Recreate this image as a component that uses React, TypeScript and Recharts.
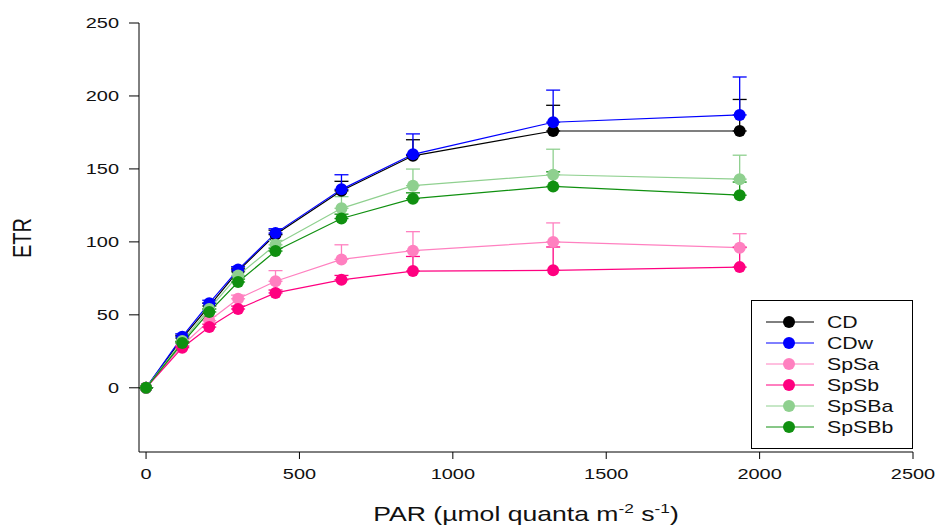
import React from 'react';
import {
  LineChart,
  Line,
  XAxis,
  YAxis,
  ErrorBar,
} from 'recharts';

// PAR steps of the light curve
const PAR = [0, 118, 206, 300, 422, 637, 870, 1327, 1935];

// ETR means per treatment
const CD = [0, 34, 56, 80, 105, 135, 159, 176, 176];
const CDw = [0, 35, 58, 81, 106, 136, 160, 182, 187];
const SpSa = [0, 29, 46, 61, 73, 88, 94, 100, 96];
const SpSb = [0, 27.5, 41.6, 54, 65, 74, 80, 80.5, 82.7];
const SpSBa = [0, 32, 54, 77, 98, 123, 138.5, 146, 143];
const SpSBb = [0, 30.7, 52, 72.5, 93.7, 116, 129.6, 138, 132];

// upper error bars (SE)
const CD_ERR = [0, 2, 2, 2, 3, 6.5, 11, 17.6, 21.6];
const CDw_ERR = [0, 2, 2, 2, 3, 10, 14, 22, 26];
const SpSa_ERR = [0, 2, 3, 2.5, 7.3, 10, 13, 13, 9.6];
const SpSb_ERR = [0, 1, 2, 2, 2, 3, 10, 16, 13.7];
const SpSBa_ERR = [0, 2, 2, 2, 3, 8, 11.4, 17.5, 16.4];
const SpSBb_ERR = [0, 1, 2, 2, 2, 3, 4, 10, 9];

const X_TICKS = [0, 500, 1000, 1500, 2000, 2500];
const Y_TICKS = [0, 50, 100, 150, 200, 250];

const SERIES = [
  { name: 'CD', values: CD, err: CD_ERR, color: '#000000' },
  { name: 'CDw', values: CDw, err: CDw_ERR, color: '#0000ff' },
  { name: 'SpSa', values: SpSa, err: SpSa_ERR, color: '#ff80c0' },
  { name: 'SpSb', values: SpSb, err: SpSb_ERR, color: '#ff0080' },
  { name: 'SpSBa', values: SpSBa, err: SpSBa_ERR, color: '#8fd08f' },
  { name: 'SpSBb', values: SpSBb, err: SpSBb_ERR, color: '#109010' },
];

const FONT = '"Liberation Sans", Arial, sans-serif';
const STRETCH = 1.33; // the original figure is stretched horizontally

const data = PAR.map((par, i) => {
  const row: any = { par };
  SERIES.forEach((s) => {
    row[s.name] = s.values[i];
    row[s.name + '_err'] = [0, s.err[i]];
  });
  return row;
});

const XTick = ({ x, y, payload }: any) => (
  <text
    transform={`translate(${x},${y}) scale(${STRETCH},1)`}
    textAnchor="middle"
    dy="0.71em"
    fontSize={15}
    fontFamily={FONT}
    fill="#111"
  >
    {payload.value}
  </text>
);

const YTick = ({ x, y, payload }: any) => (
  <text
    transform={`translate(${x},${y}) scale(${STRETCH},1)`}
    textAnchor="end"
    dy="0.36em"
    fontSize={15}
    fontFamily={FONT}
    fill="#111"
  >
    {payload.value}
  </text>
);

const XTitle = () => (
  <text
    transform={`translate(526,521) scale(${STRETCH},1)`}
    textAnchor="middle"
    fontSize={20}
    fontFamily={FONT}
    fill="#111"
  >
    PAR (µmol quanta m
    <tspan fontSize={13} dy={-8}>-2</tspan>
    <tspan dy={8}> s</tspan>
    <tspan fontSize={13} dy={-8}>-1</tspan>
    <tspan dy={8}>)</tspan>
  </text>
);

const YTitle = () => (
  <text
    transform={`translate(21,238) scale(${STRETCH},1) rotate(-90)`}
    textAnchor="middle"
    dy="0.36em"
    fontSize={20}
    fontFamily={FONT}
    fill="#111"
  >
    ETR
  </text>
);

function LegendBox() {
  return (
    <svg
      width={162}
      height={149}
      style={{ position: 'absolute', left: 751, top: 300 }}
    >
      <rect x={0.5} y={0.5} width={161} height={148} fill="#fff" stroke="#000" />
      {SERIES.map((s, i) => {
        const cy = 22 + i * 21;
        return (
          <g key={s.name}>
            <line x1={15} x2={63} y1={cy} y2={cy} stroke={s.color} strokeWidth={1} />
            <circle cx={38} cy={cy} r={6} fill={s.color} />
            <text
              transform={`translate(76,${cy}) scale(${STRETCH},1)`}
              dy="0.36em"
              fontSize={16}
              fontFamily={FONT}
              fill="#111"
            >
              {s.name}
            </text>
          </g>
        );
      })}
    </svg>
  );
}

export default function App() {
  return (
    <div style={{ position: 'absolute', left: 0, top: 0, width: 938, height: 527, background: '#fff' }}>
      <LineChart
        width={938}
        height={527}
        data={data}
        margin={{ top: 23, right: 25, bottom: 35, left: 79 }}
      >
        <XAxis
          type="number"
          dataKey="par"
          domain={[-23, 2500]}
          ticks={X_TICKS}
          allowDataOverflow
          stroke="#000"
          tickSize={7}
          tickMargin={9}
          height={40}
          tick={<XTick />}
          label={{ content: () => <XTitle /> }}
        />
        <XAxis
          xAxisId="top"
          orientation="top"
          type="number"
          domain={[-23, 2500]}
          stroke="#000"
          tick={false}
          tickLine={false}
          height={0}
        />
        <YAxis
          type="number"
          domain={[-44, 250]}
          ticks={Y_TICKS}
          allowDataOverflow
          stroke="#000"
          tickSize={10}
          tickMargin={10}
          width={60}
          tick={<YTick />}
          label={{ content: () => <YTitle /> }}
        />
        <YAxis
          yAxisId="right"
          orientation="right"
          domain={[-44, 250]}
          stroke="#000"
          tick={false}
          tickLine={false}
          width={0}
        />
        {SERIES.map((s) => (
          <Line
            key={s.name}
            type="linear"
            dataKey={s.name}
            stroke={s.color}
            strokeWidth={1.2}
            dot={{ r: 6, fill: s.color, stroke: s.color, strokeWidth: 0 }}
            activeDot={false}
            isAnimationActive={false}
          >
            <ErrorBar
              dataKey={s.name + '_err'}
              direction="y"
              width={7}
              stroke={s.color}
              strokeWidth={1.3}
              isAnimationActive={false}
            />
          </Line>
        ))}
      </LineChart>
      <LegendBox />
    </div>
  );
}
